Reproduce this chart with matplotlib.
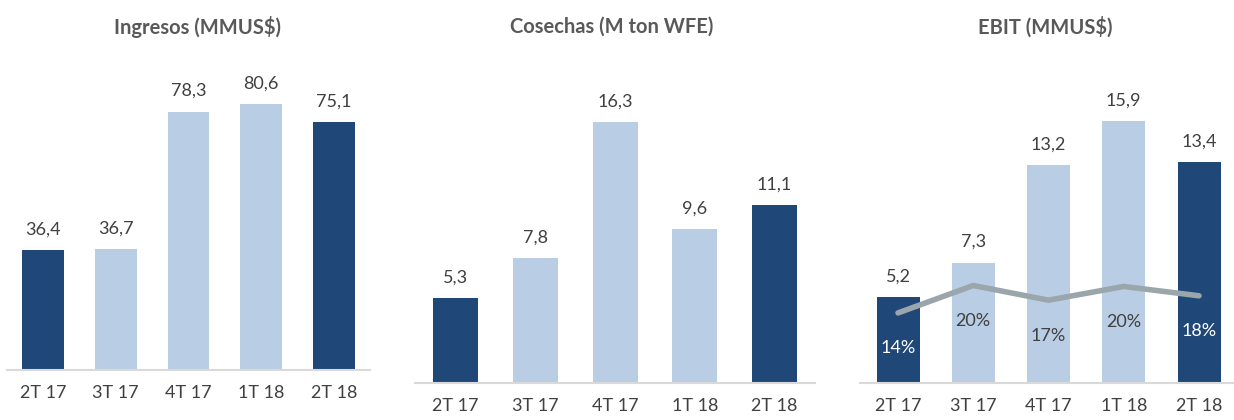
import matplotlib.pyplot as plt

plt.rcParams['font.family'] = ['Lato', 'DejaVu Sans']

quarters = ["2T 17", "3T 17", "4T 17", "1T 18", "2T 18"]
ingresos = [36.4, 36.7, 78.3, 80.6, 75.1]
cosechas = [5.3, 7.8, 16.3, 9.6, 11.1]
ebit = [5.2, 7.3, 13.2, 15.9, 13.4]
margen = [14.3, 19.9, 16.9, 19.7, 17.8]

DARK = '#1F4778'
LIGHT = '#B9CDE5'
bar_colors = [DARK, LIGHT, LIGHT, LIGHT, DARK]
TEXT = '#404040'
TITLE = '#595959'
BASE = '#D9D9D9'
LINE = '#9AA6AB'

W, H = 1234, 420
fig = plt.figure(figsize=(W / 100, H / 100), dpi=100)


def fmt(v):
    return f"{v:.1f}".replace('.', ',')


def make_panel(left, right, base_y, centers_px, bar_w_px, px_per_unit, values, title, title_x):
    top_y = 60
    ax = fig.add_axes([left / W, 1 - base_y / H, (right - left) / W, (base_y - top_y) / H])
    step = (centers_px[-1] - centers_px[0]) / 4
    ax.set_xlim(-(centers_px[0] - left) / step, 4 + (right - centers_px[-1]) / step)
    ax.set_ylim(0, (base_y - top_y) / px_per_unit)
    x = range(len(values))
    ax.bar(x, values, width=bar_w_px / step, color=bar_colors, zorder=2)
    for xi, v in zip(x, values):
        ax.annotate(fmt(v), (xi, v), xytext=(0, 9), textcoords='offset points',
                    ha='center', va='bottom', fontsize=13, color=TEXT)
    for s in ['top', 'right', 'left']:
        ax.spines[s].set_visible(False)
    ax.spines['bottom'].set_color(BASE)
    ax.spines['bottom'].set_linewidth(1.5)
    ax.set_yticks([])
    ax.set_xticks(list(x))
    ax.set_xticklabels(quarters, fontsize=13, color=TEXT)
    ax.tick_params(axis='x', length=0, pad=11)
    fig.text(title_x / W, 1 - 27 / H, title, ha='center', va='center',
             fontsize=14.5, fontweight='bold', color=TITLE)
    return ax


make_panel(7, 370, 370, [43, 116, 189, 261, 334], 42, 3.3, ingresos,
           "Ingresos (MMUS$)", 197)
make_panel(415, 815, 383, [455.5, 535.5, 615.5, 695.5, 774.5], 45, 16.0, cosechas,
           "Cosechas (M ton WFE)", 612)
ax3 = make_panel(860, 1236, 383, [898, 972.5, 1048.5, 1123.5, 1199], 43, 16.5, ebit,
                 "EBIT (MMUS$)", 1045)

ax4 = ax3.twinx()
ax4.set_ylim(0, (383 - 60) / 4.9)
ax4.plot(range(len(margen)), margen, color=LINE, linewidth=4,
         solid_capstyle='round', solid_joinstyle='round', zorder=3)
for xi, m, c in zip(range(len(margen)), margen, bar_colors):
    ax4.annotate(f"{round(m):.0f}%", (xi, m), xytext=(0, -25.5), textcoords='offset points',
                 ha='center', va='center', fontsize=13,
                 color='white' if c == DARK else TEXT)
ax4.set_yticks([])
for s in ax4.spines.values():
    s.set_visible(False)

fig.savefig('out.png', dpi=100)
